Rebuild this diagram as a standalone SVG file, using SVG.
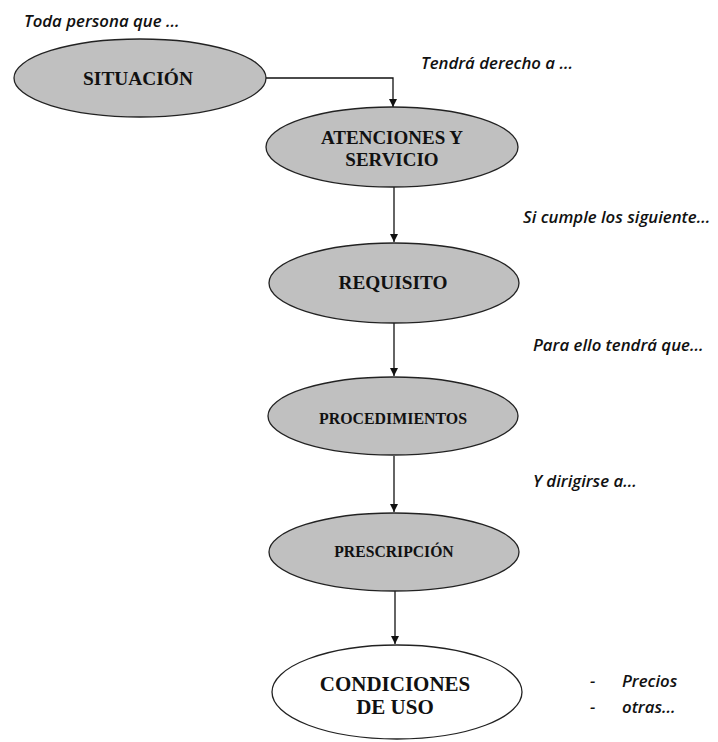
<svg xmlns="http://www.w3.org/2000/svg" width="718" height="742" viewBox="0 0 718 742">
<style>
.n{fill:#c0c0c0;stroke:#222;stroke-width:1.3}
.w{fill:#fff;stroke:#222;stroke-width:1.3}
.t{font-family:"Liberation Serif","Times New Roman",serif;font-weight:bold;fill:#111;text-anchor:middle}
.c{fill:none;stroke:#111;stroke-width:1.3}
.i{font-family:"Open Sans","Liberation Sans",sans-serif;font-style:italic;font-weight:600;font-size:16.8px;fill:#111}
</style>
<defs>
<marker id="ah" viewBox="0 0 10 10" refX="10" refY="5" markerWidth="8" markerHeight="8" markerUnits="userSpaceOnUse" orient="auto">
<path d="M0,0 L10,5 L0,10 z" fill="#111"/>
</marker>
</defs>
<rect width="718" height="742" fill="#fff"/>
<g id="connectors">
<path class="c" d="M266,78 H393 V107" marker-end="url(#ah)"/>
<path class="c" d="M394,187 V242" marker-end="url(#ah)"/>
<path class="c" d="M394,322 V376" marker-end="url(#ah)"/>
<path class="c" d="M394,456 V512" marker-end="url(#ah)"/>
<path class="c" d="M395,591 V644" marker-end="url(#ah)"/>
</g>
<g id="situacion">
<ellipse class="n" cx="140" cy="78" rx="126" ry="39"/>
<text class="t" x="138" y="85" font-size="19.4">SITUACIÓN</text>
</g>
<g id="atenciones">
<ellipse class="n" cx="392" cy="147" rx="126" ry="40"/>
<text class="t" x="392" y="144" font-size="19">ATENCIONES Y</text>
<text class="t" x="392" y="166" font-size="19">SERVICIO</text>
</g>
<g id="requisito">
<ellipse class="n" cx="394" cy="283" rx="125" ry="40"/>
<text class="t" x="393" y="289" font-size="19.3">REQUISITO</text>
</g>
<g id="procedimientos">
<ellipse class="n" cx="393" cy="416" rx="125" ry="39"/>
<text class="t" x="393" y="424" font-size="15.9">PROCEDIMIENTOS</text>
</g>
<g id="prescripcion">
<ellipse class="n" cx="394" cy="552" rx="125" ry="39"/>
<text class="t" x="394" y="557" font-size="15.7">PRESCRIPCIÓN</text>
</g>
<g id="condiciones">
<ellipse class="w" cx="397" cy="692" rx="125" ry="47"/>
<text class="t" x="395" y="691" font-size="21">CONDICIONES</text>
<text class="t" x="395" y="714" font-size="21">DE USO</text>
</g>
<g id="labels">
<text class="i" x="24" y="27">Toda persona que ...</text>
<text class="i" x="421" y="69">Tendrá derecho a ...</text>
<text class="i" x="523" y="223">Si cumple los siguiente...</text>
<text class="i" x="533" y="351">Para ello tendrá que...</text>
<text class="i" x="533" y="487">Y dirigirse a...</text>
<text class="i" x="590" y="687">-</text>
<text class="i" x="622" y="687">Precios</text>
<text class="i" x="590" y="713">-</text>
<text class="i" x="622" y="713">otras...</text>
</g>
</svg>
